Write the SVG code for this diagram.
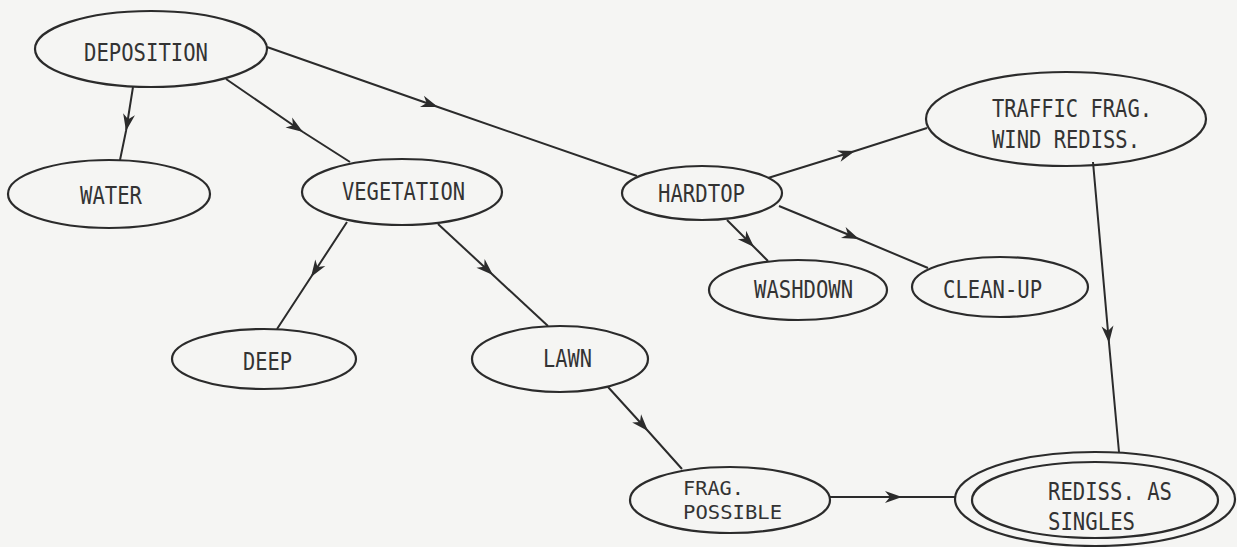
<svg xmlns="http://www.w3.org/2000/svg" width="1237" height="547" viewBox="0 0 1237 547">
<style>
.n{fill:none;stroke:#2b2b2b;stroke-width:2.2}
.e{fill:none;stroke:#2b2b2b;stroke-width:2;marker-mid:url(#ah)}
text{font-family:"DejaVu Sans Mono","Liberation Mono",monospace;font-size:24px;fill:#333;}
.s{font-size:20px}
</style>
<defs>
<marker id="ah" viewBox="-18 -7 19 14" markerWidth="19" markerHeight="14" refX="0" refY="0" orient="auto" markerUnits="userSpaceOnUse">
<path d="M0,0 L-17,-6 L-12,0 L-17,6 Z" fill="#2b2b2b"/>
</marker>
</defs>
<rect width="1237" height="547" fill="#f5f5f3"/>
<g id="connectors">
<polyline class="e" points="133,87 126,131 120,160"/>
<polyline class="e" points="226,79 303,132 350,162"/>
<polyline class="e" points="267,47 438,107 637,176"/>
<polyline class="e" points="347,222 311,277 277,329"/>
<polyline class="e" points="438,224 493,275 548,326"/>
<polyline class="e" points="768,178 855,151 927,128"/>
<polyline class="e" points="727,220 754,247 768,261"/>
<polyline class="e" points="779,206 859,239 928,268"/>
<polyline class="e" points="1093,162 1109,343 1119,452"/>
<polyline class="e" points="608,387 648,431 682,469"/>
<polyline class="e" points="830,497 902,497 955,497"/>
</g>
<g id="deposition"><ellipse class="n" cx="151" cy="49" rx="116" ry="38"/><text x="84" y="61" textLength="124" lengthAdjust="spacingAndGlyphs">DEPOSITION</text></g>
<g id="water"><ellipse class="n" cx="109" cy="194" rx="101" ry="34"/><text x="80" y="204" textLength="62" lengthAdjust="spacingAndGlyphs">WATER</text></g>
<g id="vegetation"><ellipse class="n" cx="402" cy="192" rx="100" ry="33"/><text x="342" y="200" textLength="123" lengthAdjust="spacingAndGlyphs">VEGETATION</text></g>
<g id="hardtop"><ellipse class="n" cx="702" cy="193" rx="80" ry="27"/><text x="658" y="202" textLength="87" lengthAdjust="spacingAndGlyphs">HARDTOP</text></g>
<g id="traffic"><ellipse class="n" cx="1066" cy="119" rx="140" ry="47"/><text x="992" y="117" textLength="160" lengthAdjust="spacingAndGlyphs">TRAFFIC FRAG.</text><text x="992" y="148" textLength="148" lengthAdjust="spacingAndGlyphs">WIND REDISS.</text></g>
<g id="washdown"><ellipse class="n" cx="798" cy="290" rx="89" ry="30"/><text x="754" y="298" textLength="99" lengthAdjust="spacingAndGlyphs">WASHDOWN</text></g>
<g id="cleanup"><ellipse class="n" cx="1000" cy="287" rx="88" ry="30"/><text x="943" y="298" textLength="99" lengthAdjust="spacingAndGlyphs">CLEAN-UP</text></g>
<g id="deep"><ellipse class="n" cx="264" cy="359" rx="92" ry="30"/><text x="243" y="370" textLength="49" lengthAdjust="spacingAndGlyphs">DEEP</text></g>
<g id="lawn"><ellipse class="n" cx="560" cy="359" rx="88" ry="33"/><text x="543" y="367" textLength="49" lengthAdjust="spacingAndGlyphs">LAWN</text></g>
<g id="frag"><ellipse class="n" cx="730" cy="500" rx="100" ry="33"/><text class="s" x="683" y="495" textLength="61" lengthAdjust="spacingAndGlyphs">FRAG.</text><text class="s" x="683" y="519" textLength="99" lengthAdjust="spacingAndGlyphs">POSSIBLE</text></g>
<g id="rediss"><ellipse class="n" cx="1095" cy="499" rx="140" ry="47"/><ellipse class="n" cx="1095" cy="500" rx="123" ry="38"/><text x="1048" y="500" textLength="124" lengthAdjust="spacingAndGlyphs">REDISS. AS</text><text x="1048" y="530" textLength="87" lengthAdjust="spacingAndGlyphs">SINGLES</text></g>
</svg>
